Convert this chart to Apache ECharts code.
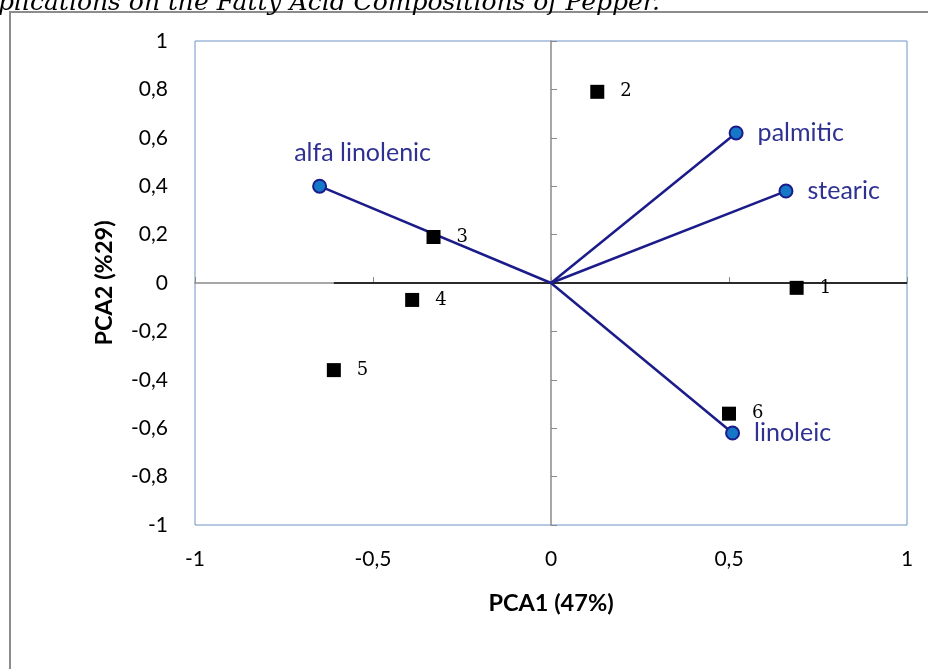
<!DOCTYPE html>
<html>
<head>
<meta charset="utf-8">
<script src="https://cdn.jsdelivr.net/npm/echarts@6/dist/echarts.min.js"></script>
<style>
  html, body { margin: 0; padding: 0; background: #fff; }
  #main { width: 928px; height: 669px; }
</style>
</head>
<body>
<div id="main"></div>
<script>
// 样本得分（方块）
var sampleNames = ['1', '2', '3', '4', '5', '6'];
var sampleX = [0.69, 0.13, -0.33, -0.39, -0.61, 0.50];
var sampleY = [-0.02, 0.79, 0.19, -0.07, -0.36, -0.54];

// 脂肪酸载荷（圆点 + 连线）
var acidNames = ['alfa linolenic', 'palmitic', 'stearic', 'linoleic'];
var acidX = [-0.65, 0.52, 0.66, 0.51];
var acidY = [0.40, 0.62, 0.38, -0.62];

// y=0 处的黑线
var zeroLineX = [-0.61, 1];

// 刻度
var xTicks = [-1, -0.5, 0, 0.5, 1];
var yTicks = [-1, -0.8, -0.6, -0.4, -0.2, 0, 0.2, 0.4, 0.6, 0.8, 1];

function comma(v) {
    return String(Math.round(v * 10) / 10).replace('.', ',');
}

var navy = '#1b1b8a';
var labelNavy = '#2e3192';
var axisGray = '#8a8a8a';

var series = [];

series.push({
    type: 'line',
    silent: true,
    symbol: 'none',
    xAxisIndex: 1,
    yAxisIndex: 1,
    lineStyle: { color: '#000', width: 1.5 },
    data: zeroLineX.map(function (x) { return [x, 0]; }),
    z: 3
});

acidNames.forEach(function (name, i) {
    var lbl = {
        show: true,
        position: 'right',
        distance: 14,
        color: labelNavy,
        fontFamily: 'Lato',
        fontSize: 25,
        formatter: name
    };
    if (i === 0) {
        lbl.position = 'top';
        lbl.distance = 5;
        lbl.offset = [43, -8];
    }
    series.push({
        type: 'line',
        name: name,
        xAxisIndex: 1,
        yAxisIndex: 1,
        symbol: 'circle',
        symbolSize: 13,
        showSymbol: true,
        lineStyle: { color: navy, width: 2.5 },
        itemStyle: { color: '#1577c8', borderColor: navy, borderWidth: 2 },
        data: [
            { value: [0, 0], symbolSize: 0, label: { show: false } },
            { value: [acidX[i], acidY[i]], label: lbl }
        ],
        z: 4
    });
});

series.push({
    type: 'scatter',
    xAxisIndex: 1,
    yAxisIndex: 1,
    symbol: 'rect',
    symbolSize: 14,
    itemStyle: { color: '#000', opacity: 1 },
    label: {
        show: true,
        position: 'right',
        distance: 16,
        color: '#000',
        fontFamily: 'DejaVu Serif',
        fontSize: 18,
        formatter: function (p) { return sampleNames[p.dataIndex]; }
    },
    data: sampleX.map(function (x, i) { return [x, sampleY[i]]; }),
    z: 5
});

var myChart = echarts.init(document.getElementById('main'));

var option = {
    animation: false,
    backgroundColor: '#fff',
    graphic: [
        {
            type: 'text',
            left: -2,
            top: -9,
            style: {
                text: 'plications on the Fatty Acid Compositions of Pepper.',
                font: 'italic 25px "DejaVu Serif"',
                fill: '#000'
            },
            z: 10
        },
        {
            type: 'rect',
            shape: { x: 10, y: 12, width: 940, height: 720 },
            style: { fill: 'none', stroke: '#8c8c8c', lineWidth: 2 },
            silent: true,
            z: -1
        }
    ],
    grid: {
        left: 195,
        right: 21,
        top: 41,
        bottom: 144,
        show: true,
        borderColor: '#6f94c8',
        borderWidth: 1,
        backgroundColor: 'transparent'
    },
    xAxis: [
        {
            type: 'value',
            min: -1,
            max: 1,
            interval: 0.5,
            position: 'bottom',
            name: 'PCA1 (47%)',
            nameLocation: 'middle',
            nameGap: 66,
            nameTextStyle: { fontFamily: 'Lato', fontWeight: 'bold', fontSize: 23.5, color: '#000' },
            axisLine: { show: false, onZero: false },
            axisTick: { show: false },
            splitLine: { show: false },
            axisLabel: {
                margin: 24,
                fontFamily: 'Lato',
                fontSize: 21,
                color: '#000',
                customValues: xTicks,
                formatter: comma
            }
        },
        {
            type: 'value',
            min: -1,
            max: 1,
            interval: 0.5,
            axisLine: { show: true, onZero: true, lineStyle: { color: axisGray, width: 1.5 } },
            axisTick: { show: true, length: 6, lineStyle: { color: axisGray } },
            axisLabel: { show: false },
            splitLine: { show: false }
        }
    ],
    yAxis: [
        {
            type: 'value',
            min: -1,
            max: 1,
            interval: 0.2,
            position: 'left',
            name: 'PCA2 (%29)',
            nameLocation: 'middle',
            nameGap: 79,
            nameTextStyle: { fontFamily: 'Lato', fontWeight: 'bold', fontSize: 23.5, color: '#000' },
            axisLine: { show: false, onZero: false },
            axisTick: { show: false },
            splitLine: { show: false },
            axisLabel: {
                margin: 27,
                fontFamily: 'Lato',
                fontSize: 21,
                color: '#000',
                customValues: yTicks,
                formatter: comma
            }
        },
        {
            type: 'value',
            min: -1,
            max: 1,
            interval: 0.2,
            axisLine: { show: true, onZero: true, lineStyle: { color: axisGray, width: 1.5 } },
            axisTick: { show: true, length: 6, lineStyle: { color: axisGray } },
            axisLabel: { show: false },
            splitLine: { show: false }
        }
    ],
    series: series
};

myChart.setOption(option);
</script>
</body>
</html>
